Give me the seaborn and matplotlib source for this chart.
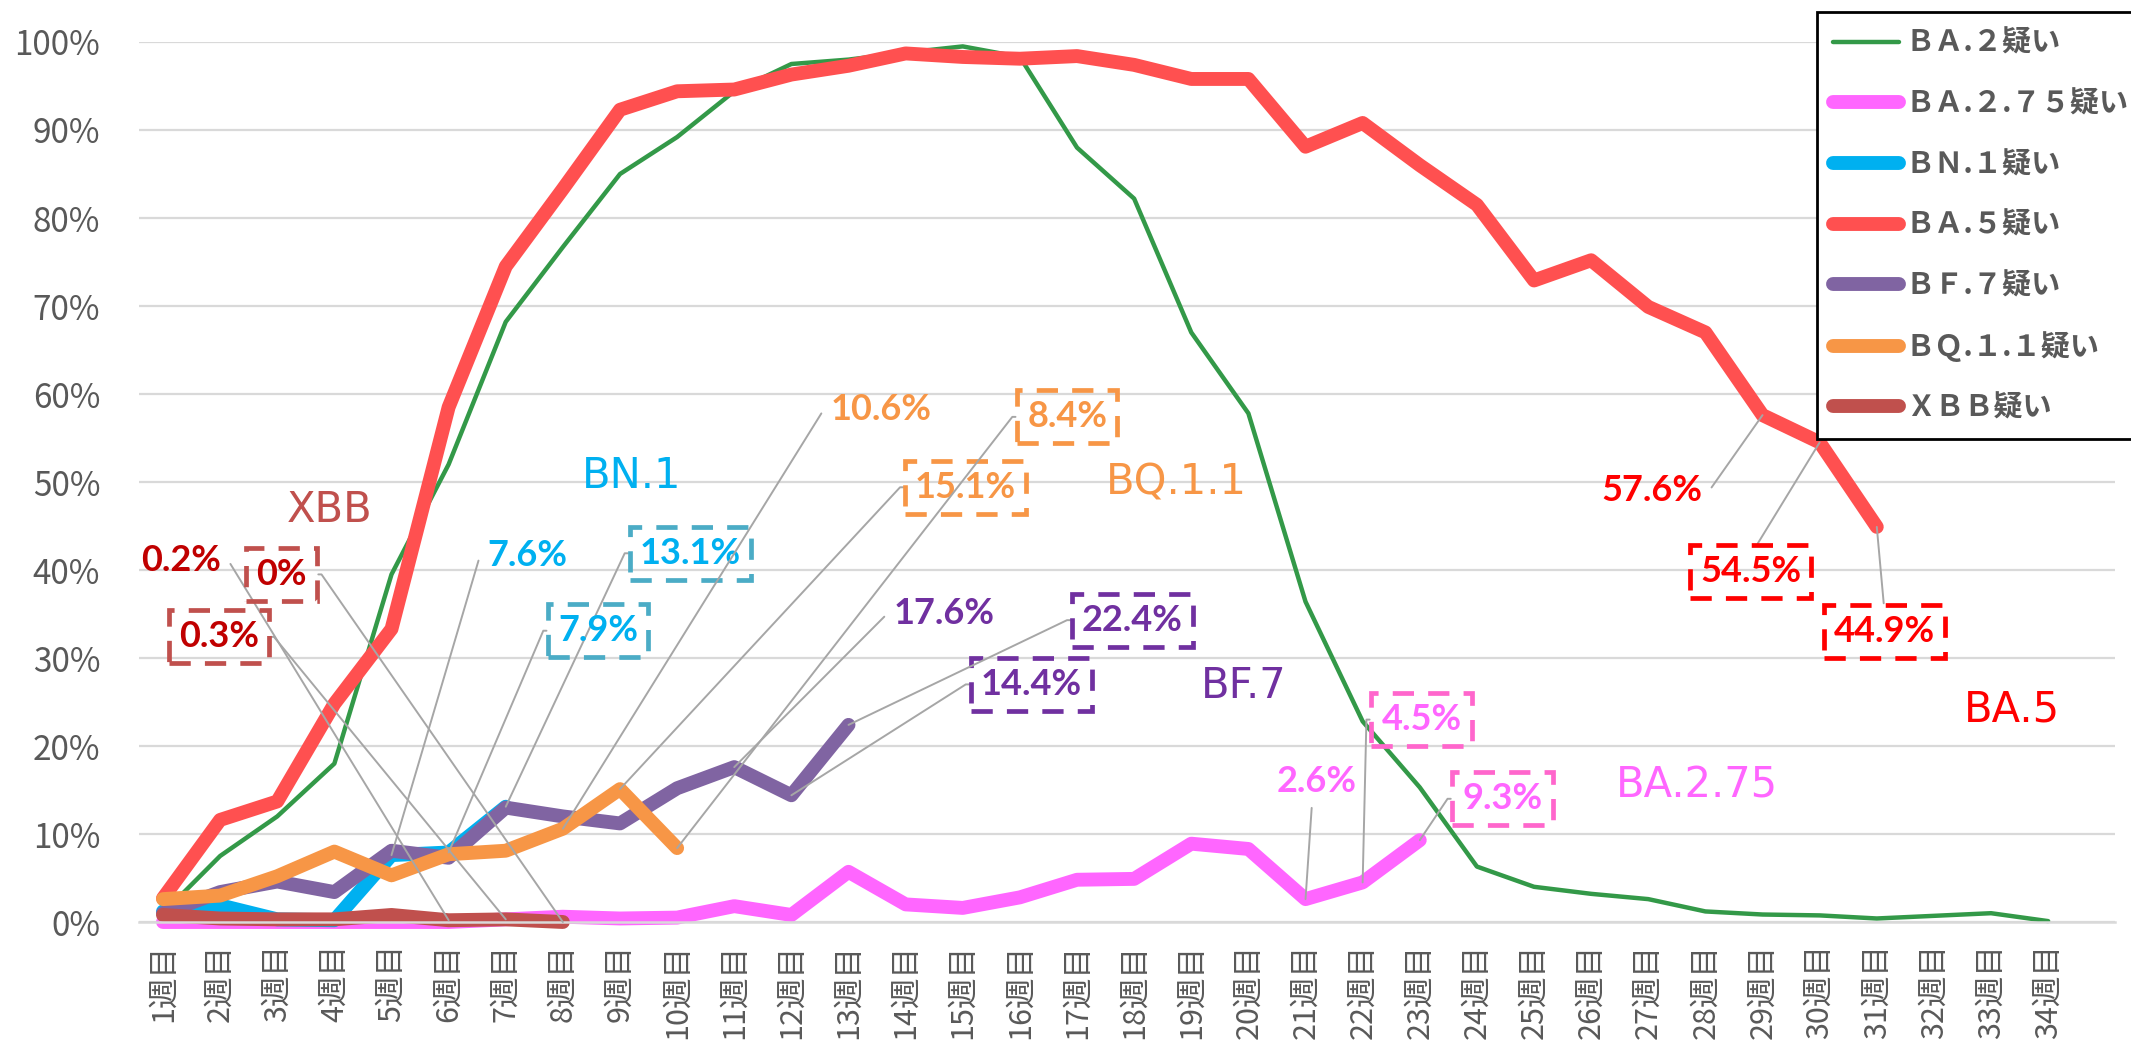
import numpy as np
import pandas as pd
import matplotlib
matplotlib.use("Agg")
import matplotlib.pyplot as plt
import seaborn as sns

# ---- data (share of sequenced samples, %) ----
week_labels = [f"{i}週目" for i in range(1, 35)]

ba2 = [1.0, 7.5, 12.0, 18.0, 39.5, 52.0, 68.2, 76.7, 85.0, 89.2, 94.4, 97.5,
       98.0, 98.8, 99.5, 98.3, 88.0, 82.2, 67.0, 57.8, 36.4, 22.8, 15.3, 6.3,
       4.0, 3.2, 2.6, 1.2, 0.85, 0.75, 0.4, 0.7, 1.0, 0.1]
ba275 = [0.0, 0.0, 0.0, 0.0, 0.0, 0.0, 0.3, 0.6, 0.4, 0.5, 1.8, 0.8, 5.7, 2.0,
         1.6, 2.8, 4.8, 4.9, 8.9, 8.3, 2.6, 4.5, 9.3]
bn1 = [1.2, 1.9, 0.3, 0.2, 7.6, 7.9, 13.1]
ba5 = [2.7, 11.6, 13.7, 24.8, 33.3, 58.5, 74.5, 83.3, 92.3, 94.4, 94.6, 96.3,
       97.3, 98.7, 98.3, 98.1, 98.4, 97.4, 95.8, 95.8, 88.1, 90.8, 86.0, 81.5,
       72.9, 75.2, 69.9, 67.0, 57.6, 54.5, 44.9]
bf7 = [1.0, 3.4, 4.6, 3.4, 8.1, 7.3, 13.0, 12.0, 11.2, 15.2, 17.6, 14.4, 22.4]
bq11 = [2.6, 3.0, 5.2, 8.0, 5.3, 7.7, 8.1, 10.6, 15.1, 8.4]
xbb = [0.8, 0.4, 0.3, 0.3, 0.8, 0.2, 0.3, 0.0]

series_names = ["ＢＡ.２疑い", "ＢＡ.２.７５疑い", "ＢＮ.１疑い", "ＢＡ.５疑い",
                "ＢＦ.７疑い", "ＢＱ.１.１疑い", "ＸＢＢ疑い"]
series_values = [ba2, ba275, bn1, ba5, bf7, bq11, xbb]
line_colors = ["#339948", "#FF66FF", "#00B0F0", "#FF5050", "#8064A2", "#F79646", "#C0504D"]
line_widths = [3.2, 10, 10, 10, 10, 10, 10]

# variant name labels: (text, x, y, color)
name_labels = [("XBB", 3.92, 46.8, "#C0504D"),
               ("BN.1", 9.21, 50.7, "#00B0F0"),
               ("BQ.1.1", 18.74, 50.0, "#F79646"),
               ("BF.7", 19.91, 26.8, "#7030A0"),
               ("BA.2.75", 27.85, 15.5, "#FF66FF"),
               ("BA.5", 33.36, 24.2, "#FF0000")]

# value labels: (text, series index, week, text x, text y, boxed, leader side)
value_labels = [("0.2%", 6, 6, 1.32, 41.1, False, "R"),
                ("0%", 6, 8, 3.07, 39.5, True, "R"),
                ("0.3%", 6, 7, 1.98, 32.4, True, "R"),
                ("7.6%", 2, 5, 7.37, 41.6, False, "L"),
                ("13.1%", 2, 7, 10.23, 41.9, True, "L"),
                ("7.9%", 2, 6, 8.62, 33.1, True, "L"),
                ("10.6%", 5, 8, 13.57, 58.2, False, "L"),
                ("15.1%", 5, 9, 15.05, 49.4, True, "L"),
                ("8.4%", 5, 10, 16.83, 57.4, True, "L"),
                ("17.6%", 4, 11, 14.68, 35.0, False, "L"),
                ("14.4%", 4, 12, 16.2, 27.0, True, "L"),
                ("22.4%", 4, 13, 17.97, 34.3, True, "L"),
                ("2.6%", 1, 21, 21.19, 16.0, False, "B"),
                ("4.5%", 1, 22, 23.03, 23.0, True, "L"),
                ("9.3%", 1, 23, 24.45, 14.0, True, "L"),
                ("57.6%", 3, 29, 27.06, 49.0, False, "R"),
                ("54.5%", 3, 30, 28.79, 39.8, True, "T"),
                ("44.9%", 3, 31, 31.14, 33.0, True, "T")]
text_colors = {6: "#C00000", 2: "#00B0F0", 5: "#F79646", 4: "#7030A0", 1: "#FF66FF", 3: "#FF0000"}
box_colors = {6: "#C0504D", 2: "#4BACC6", 5: "#F79646", 4: "#7030A0", 1: "#FF66CC", 3: "#FF0000"}

# ---- style ----
sns.set_style("white")
plt.rcParams['font.family'] = ['Noto Sans CJK JP', 'DejaVu Sans']

fig = plt.figure(figsize=(21.31, 10.45), dpi=100)
ax = fig.add_axes([139 / 2131, 1 - 922 / 1045, (2115 - 139) / 2131, 880 / 1045])

for name, vals, c, lw in zip(series_names, series_values, line_colors, line_widths):
    df = pd.DataFrame({"week": np.arange(1, len(vals) + 1), "value": vals})
    sns.lineplot(data=df, x="week", y="value", color=c, lw=lw, label=name, ax=ax,
                 solid_capstyle="round", solid_joinstyle="round", clip_on=False)

ax.set_xlim(0.58, 35.17)
ax.set_ylim(0, 100)
ax.set_yticks(range(0, 101, 10))
ax.set_yticklabels([f"{v}%" for v in range(0, 101, 10)])
ax.set_xticks(range(1, 35))
ax.set_xticklabels(week_labels, rotation=90, va="top", ha="center")
ax.tick_params(axis="y", labelsize=24, labelcolor="#595959", length=0, pad=28)
ax.tick_params(axis="x", labelsize=22, labelcolor="#595959", length=0, pad=16)
ax.grid(axis="y", color="#D9D9D9", lw=1.6)
ax.set_axisbelow(True)
for s in ["left", "right", "top"]:
    ax.spines[s].set_visible(False)
ax.spines["bottom"].set_color("#D9D9D9")
ax.spines["bottom"].set_linewidth(1.8)
ax.set_xlabel("")
ax.set_ylabel("")

# variant names
for txt, x, y, c in name_labels:
    ax.text(x, y, txt, color=c, fontsize=30, family="DejaVu Sans", ha="center", va="center")

# value labels with leader lines
for txt, si, wk, tx, ty, boxed, side in value_labels:
    yv = series_values[si][wk - 1]
    arm = 15 if boxed else 7
    if side == "L":
        relpos, conn = (0, 0.5), f"arc,angleA=180,armA={arm},angleB=0,armB=0,rad=0"
    elif side == "R":
        relpos, conn = (1, 0.5), f"arc,angleA=0,armA={arm},angleB=0,armB=0,rad=0"
    elif side == "B":
        relpos, conn = (0.45, 0), "arc3,rad=0"
    else:
        relpos, conn = (0.5, 1), "arc3,rad=0"
    bbox = None
    if boxed:
        bbox = dict(boxstyle="square,pad=0.28", fc="none", ec=box_colors[si], lw=3.4,
                    ls=(0, (4.5, 3)))
    ax.annotate(txt, xy=(wk, yv), xytext=(tx, ty), textcoords="data",
                ha="center", va="center", color=text_colors[si], fontsize=26,
                fontweight="bold", family="Lato", bbox=bbox, annotation_clip=False,
                arrowprops=dict(arrowstyle="-", color="#A6A6A6", lw=1.4,
                                shrinkA=0 if boxed else 5, shrinkB=0,
                                relpos=relpos, connectionstyle=conn))

leg = ax.legend(loc="upper left", bbox_to_anchor=(1817 / 2131, 1 - 12 / 1045),
                bbox_transform=fig.transFigure, frameon=True, fancybox=False,
                edgecolor="black", borderaxespad=0, fontsize=21, handlelength=2.25,
                handletextpad=0.25, labelspacing=1.05, borderpad=0.55,
                labelcolor="#595959")
leg.get_frame().set_linewidth(2)
leg.get_frame().set_alpha(1)
for t in leg.get_texts():
    t.set_fontweight("bold")

fig.savefig("out.png", dpi=100)
